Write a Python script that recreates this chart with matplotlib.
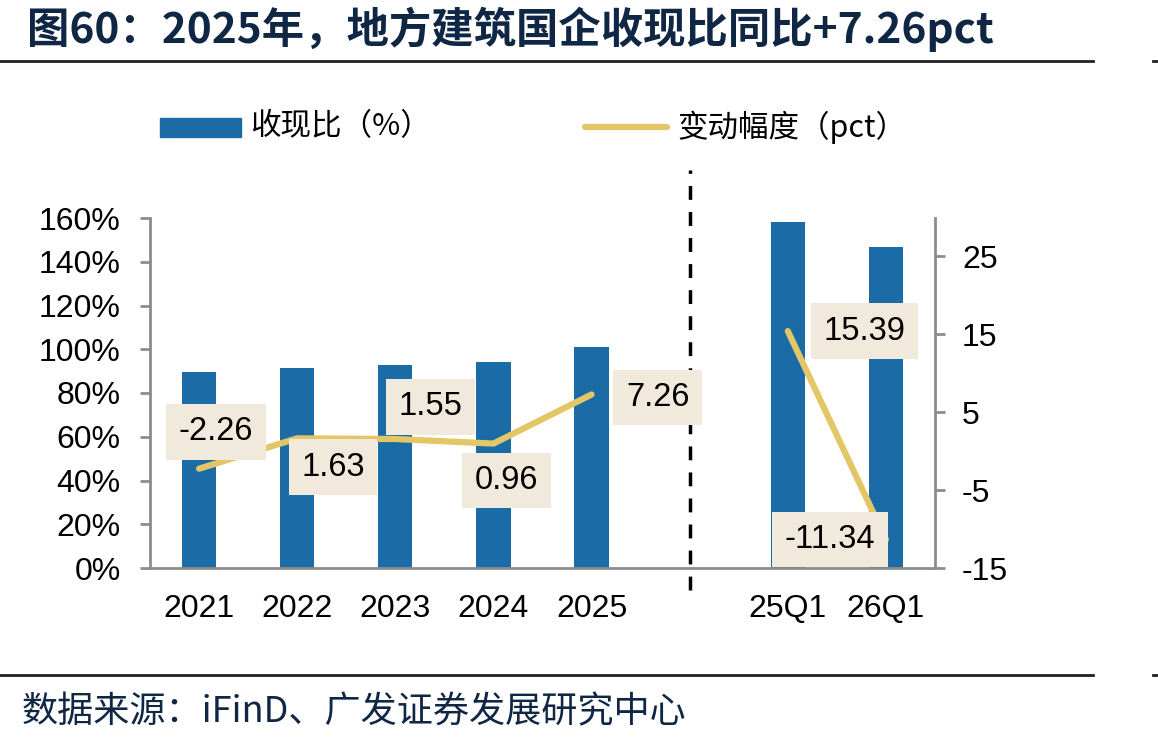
import matplotlib.pyplot as plt
import numpy as np

plt.rcParams['font.family'] = ['Liberation Sans', 'Noto Sans CJK SC', 'DejaVu Sans']

categories = ['2021', '2022', '2023', '2024', '2025', '', '25Q1', '26Q1']
ratio = [89.6, 91.4, 93.0, 94.0, 101.0, np.nan, 158.0, 146.8]
change = [-2.26, 1.63, 1.55, 0.96, 7.26, np.nan, 15.39, -11.34]
label_text = ['-2.26', '1.63', '1.55', '0.96', '7.26', '', '15.39', '-11.34']
label_offset = [(17, 37), (36, -29), (35, 32), (13, -37), (66, -3), None, (77, 0), (-56, 0)]

blue = '#1B6BA6'
gold = '#E3C665'
box = '#F1E9DB'
navy = '#0F2744'
grey = '#8C8C8C'

fig = plt.figure(figsize=(11.58, 7.44), dpi=100)
ax = fig.add_axes([150 / 1158, 1 - 568 / 744, 785 / 1158, 350 / 744])
ax2 = ax.twinx()

x = np.arange(len(categories))
ax.bar(x, ratio, width=0.35, color=blue, zorder=2)
ax.set_xlim(-0.5, 7.5)
ax.set_ylim(0, 160)
ax.set_yticks(range(0, 161, 20))
ax.set_yticklabels([f'{v}%' for v in range(0, 161, 20)])
ax.set_xticks([i for i, c in enumerate(categories) if c])
ax.set_xticklabels([c for c in categories if c])

ax2.plot(x, change, color=gold, lw=4.5, solid_capstyle='round', zorder=3)
ax2.set_ylim(-15, 29.9)
ax2.set_yticks([-15, -5, 5, 15, 25])
ax2.set_yticklabels(['-15', '-5', '5', '15', '25'])

for i, t in enumerate(label_text):
    if not t:
        continue
    ax2.annotate(t, (x[i], change[i]), xytext=label_offset[i], textcoords='offset pixels',
                 ha='center', va='center', fontsize=23.5, color='black', zorder=5,
                 bbox=dict(boxstyle='square,pad=0.38', facecolor=box, edgecolor='none'))

for a in (ax, ax2):
    a.spines['top'].set_visible(False)
    for s in ('left', 'right', 'bottom'):
        a.spines[s].set_color(grey)
        a.spines[s].set_linewidth(2)
ax.spines['right'].set_visible(False)
ax2.spines['left'].set_visible(False)
ax2.spines['bottom'].set_visible(False)
ax.tick_params(axis='y', labelsize=23, length=7, width=2, color=grey, pad=14)
ax.tick_params(axis='x', labelsize=23, length=0, pad=19)
ax2.tick_params(axis='y', labelsize=23, length=7.5, width=2, color=grey, pad=12)

ax.axvline(5, ymin=-0.063, ymax=1.137, color='black', lw=2.5, ls=(0, (4, 3.5)), clip_on=False, zorder=4)

# legend drawn by hand on the figure
fig.patches.append(plt.Rectangle((160 / 1158, 1 - 137 / 744), 81 / 1158, 19 / 744,
                                 transform=fig.transFigure, color=blue))
fig.text(250 / 1158, 1 - 127 / 744, '收现比（%）', fontsize=22, va='center',
         family=['Noto Sans CJK SC'])
fig.add_artist(plt.Line2D([585 / 1158, 667 / 1158], [1 - 127 / 744] * 2, color=gold, lw=4.5,
                          solid_capstyle='round', transform=fig.transFigure))
fig.text(677 / 1158, 1 - 127 / 744, '变动幅度（pct）', fontsize=22, va='center',
         family=['Noto Sans CJK SC'])

fig.text(27 / 1158, 1 - 29 / 744, '图60：2025年，地方建筑国企收现比同比+7.26pct', fontsize=30.5,
         fontweight='bold', color=navy, va='center', family=['Noto Sans CJK SC'])
for yy in (61, 675):
    fig.add_artist(plt.Line2D([0, 1093 / 1158], [1 - yy / 744] * 2, color='#222222', lw=2,
                              transform=fig.transFigure))
    fig.add_artist(plt.Line2D([1153 / 1158, 1], [1 - yy / 744] * 2, color='#222222', lw=2,
                              transform=fig.transFigure))
fig.text(22 / 1158, 1 - 712 / 744, '数据来源：iFinD、广发证券发展研究中心', fontsize=26,
         color=navy, va='center', family=['Noto Sans CJK SC'])

fig.savefig('out.png', dpi=100)
